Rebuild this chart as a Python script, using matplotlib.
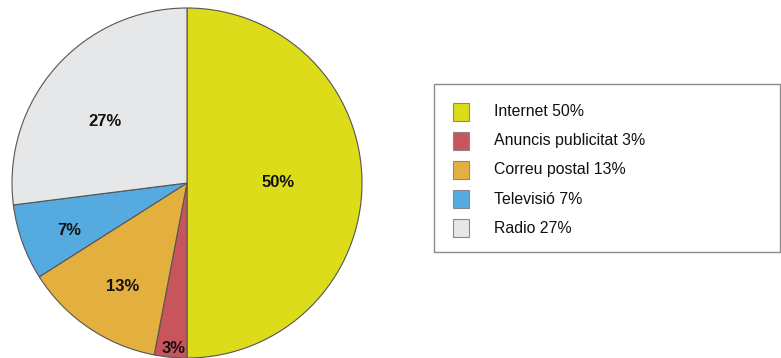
import numpy as np
import matplotlib
matplotlib.use("Agg")
import matplotlib.pyplot as plt
from matplotlib.patches import Rectangle

categories = ["Internet", "Anuncis publicitat", "Correu postal", "Televisió", "Radio"]
values = [50, 3, 13, 7, 27]
colors = ["#dcdc1a", "#c9555c", "#e3b040", "#55abe0", "#e6e7e9"]
# placement of each percentage label: fraction of the radius and angular nudge (deg)
label_r = [0.52, 0.935, 0.686, 0.719, 0.589]
label_da = [1.3, 0.8, 2.0, 1.2, 3.7]

W, H = 781, 358
fig = plt.figure(figsize=(W / 100, H / 100), dpi=100)
plt.rcParams["font.family"] = ["Liberation Sans", "DejaVu Sans"]

# pie axes: centre at (187, 183) px, radius 175 px
cx, cy, r = 187, 183, 175
ax = fig.add_axes([(cx - r) / W, (H - cy - r) / H, 2 * r / W, 2 * r / H])
wedges, _ = ax.pie(values, colors=colors, startangle=90, counterclock=False,
                   radius=1.0,
                   wedgeprops=dict(edgecolor="#555555", linewidth=0.8))
ax.set_xlim(-1, 1)
ax.set_ylim(-1, 1)
ax.set_aspect("equal")
ax.axis("off")

total = sum(values)
start = 90.0
for v, lr, da in zip(values, label_r, label_da):
    span = 360.0 * v / total
    mid = np.deg2rad(start - span / 2 + da)
    ax.annotate(f"{v}%", (lr * np.cos(mid), lr * np.sin(mid)),
                xytext=(0, -2), textcoords="offset pixels",
                ha="center", va="center",
                fontsize=12, fontweight="bold", color="#111111")
    start -= span

# legend drawn in pixel coordinates
lg = fig.add_axes([0, 0, 1, 1])
lg.set_xlim(0, W)
lg.set_ylim(H, 0)
lg.axis("off")
lg.patch.set_alpha(0)
lg.add_patch(Rectangle((433.5, 83.5), 346.5, 168.5, fill=False,
                       edgecolor="#8a8a8a", linewidth=1.0))
row0, step = 111.5, 29.2
for i, (name, v, c) in enumerate(zip(categories, values, colors)):
    y = row0 + i * step
    lg.add_patch(Rectangle((452.5, y - 9), 16.5, 18, facecolor=c,
                           edgecolor="#888888", linewidth=0.8))
    lg.text(494, y, f"{name} {v}%", ha="left", va="center",
            fontsize=11.4, color="#111111")

fig.savefig("out.png", dpi=100)
